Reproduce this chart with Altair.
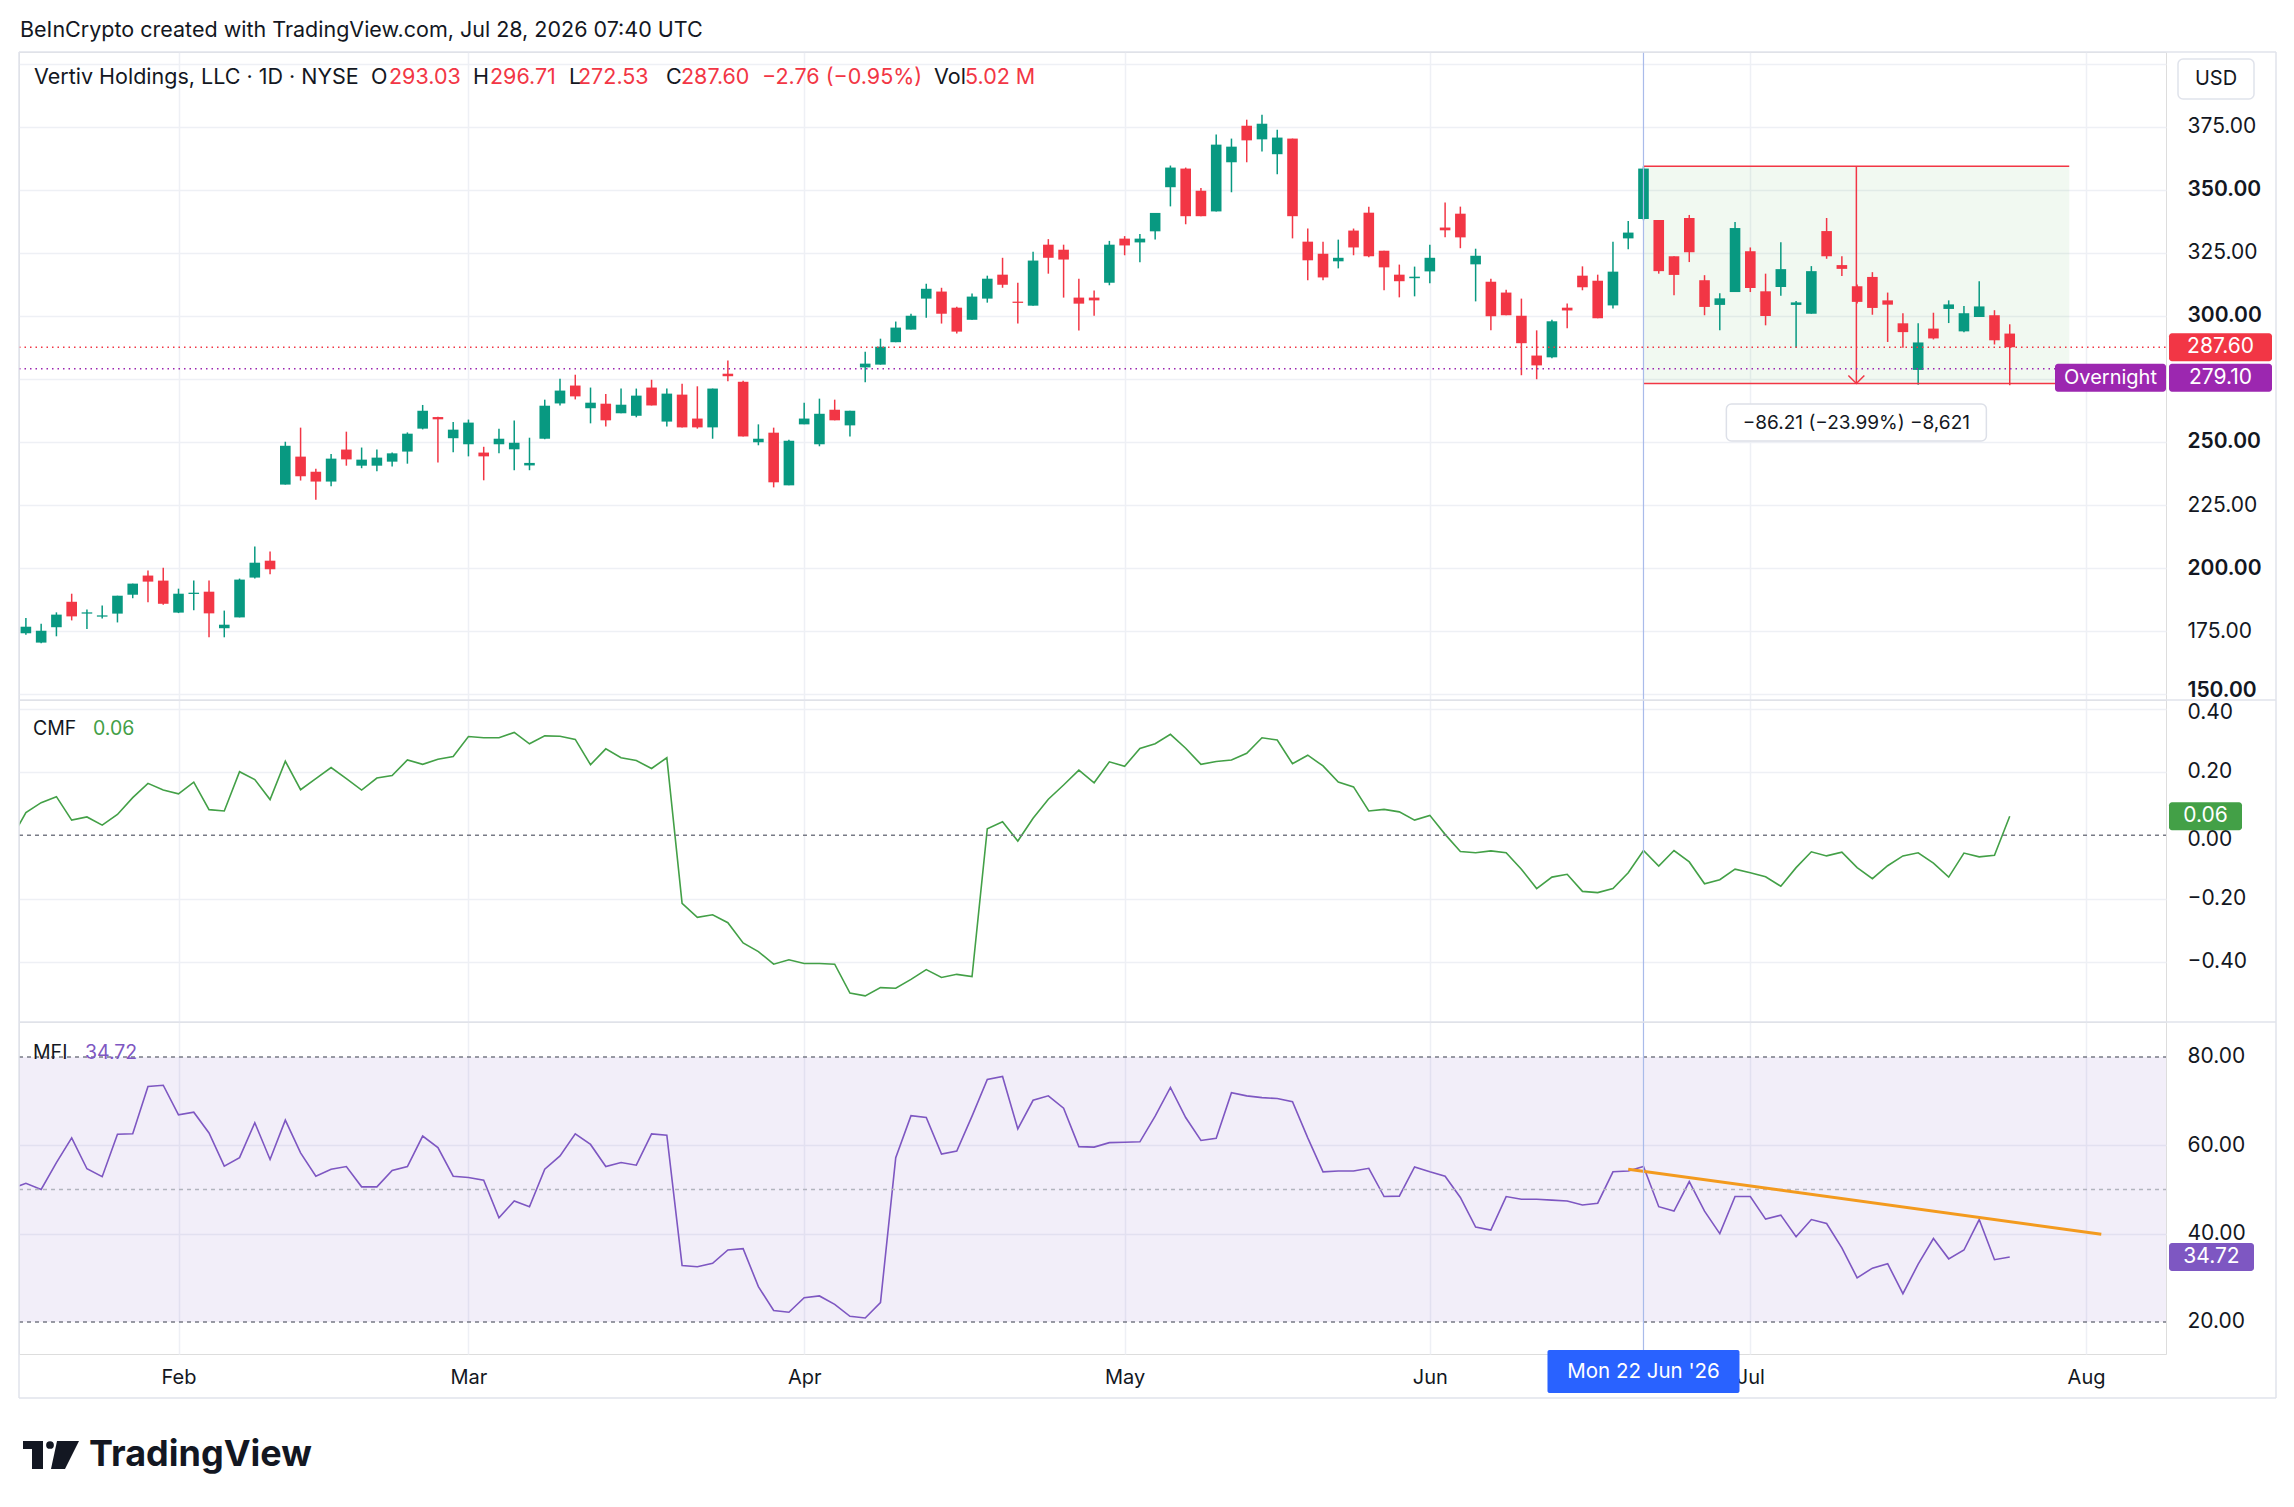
import altair as alt
import pandas as pd

# ---------------- data ----------------
opens = [174.1,170.4,176.5,186.6,182.0,180.7,181.9,189.4,197.0,195.0,182.3,190.0,190.6,176.1,180.4,196.2,202.9,233.1,244.2,238.2,
         234.3,247.0,240.6,240.6,242.2,246.2,255.3,259.9,251.5,249.1,245.8,249.1,247.1,240.7,251.3,265.3,272.4,263.4,265.2,261.4,
         260.4,271.6,258.1,268.8,259.3,255.8,277.1,273.9,249.9,253.7,232.8,257.0,249.1,262.8,256.6,279.6,280.7,289.6,294.6,306.9,
         309.7,303.3,298.5,306.9,316.4,305.7,304.1,328.3,326.3,307.3,307.3,313.2,330.7,329.2,333.6,351.1,358.5,349.7,341.5,361.0,
         375.5,370.1,364.2,370.4,329.5,324.7,321.7,333.9,341.0,325.9,316.4,315.0,317.7,335.1,340.6,320.5,313.6,309.3,300.1,284.3,
         283.6,303.3,316.0,314.0,304.2,330.8,338.5,338.1,323.7,338.9,314.2,304.4,309.5,325.7,309.8,311.5,304.4,300.9,333.7,320.2,
         311.8,315.5,306.2,297.1,278.6,295.0,302.8,293.9,299.6,300.3,293.03]
highs = [180.2,177.9,182.4,189.8,183.5,185.1,189.0,193.8,199.0,200.1,191.8,195.0,195.0,183.1,195.8,208.5,206.5,250.1,255.7,239.4,
         245.2,254.1,247.8,247.0,245.8,253.8,264.7,260.0,257.9,258.9,248.1,255.3,258.5,251.7,266.8,275.1,276.7,271.6,269.0,271.2,
         271.2,274.7,271.2,273.1,272.1,271.2,282.3,274.3,257.0,255.7,250.9,265.6,267.2,266.8,262.4,285.8,291.0,297.8,300.9,312.8,
         311.2,303.7,308.9,316.0,323.1,313.2,325.5,330.5,328.3,314.8,310.1,329.8,331.7,332.5,340.9,359.7,358.9,350.8,372.0,370.4,
         377.9,379.9,373.9,370.4,334.7,329.5,330.3,334.7,343.4,325.9,320.4,319.6,328.3,345.0,343.4,326.7,314.8,310.4,306.9,294.3,
         298.5,305.0,319.7,316.4,329.5,337.7,359.4,338.1,323.7,340.1,316.2,309.0,337.3,327.2,316.8,329.3,306.0,319.8,338.9,323.7,
         312.5,317.4,309.3,301.1,297.1,301.3,306.2,304.0,313.8,302.3,296.71]
lows = [173.5,170.1,172.9,179.2,175.8,180.0,178.4,188.0,186.4,185.4,182.1,183.2,172.5,172.5,180.4,195.8,197.5,233.1,234.7,227.1,
        232.4,240.6,239.6,238.4,240.3,241.4,255.0,241.9,245.9,244.3,234.8,245.5,238.8,238.8,251.1,264.5,266.9,257.4,256.2,261.4,
        259.8,264.5,256.2,255.8,255.3,251.3,274.1,252.2,248.7,232.0,232.8,257.0,248.3,258.6,252.2,273.7,280.7,289.6,294.6,299.3,
        297.0,293.1,298.5,305.3,311.2,297.0,304.1,316.8,307.3,294.2,300.1,312.2,324.1,321.3,330.4,343.5,336.4,339.6,341.5,349.1,
        361.0,365.3,356.2,330.8,314.2,314.2,318.9,324.1,323.3,310.2,307.4,307.8,313.0,331.2,326.9,305.8,294.3,300.3,276.5,274.9,
        283.2,295.1,310.2,299.1,303.0,326.5,338.0,316.8,308.2,321.4,300.3,294.3,309.5,309.5,296.3,308.0,287.4,300.9,322.7,315.9,
        305.0,300.5,289.7,287.4,272.7,290.7,297.2,293.6,299.6,288.7,272.53]
closes = [176.7,175.1,181.5,180.8,182.4,181.2,189.0,193.8,194.6,185.8,189.8,190.2,182.0,177.5,195.4,202.1,199.5,248.5,236.4,234.3,
          243.4,243.1,243.0,243.8,245.5,253.3,262.4,259.0,254.9,257.7,244.3,251.3,249.7,241.7,264.4,270.4,268.1,265.6,258.6,264.8,
          268.4,264.5,269.2,255.8,255.8,271.2,276.1,252.2,251.3,234.0,250.5,259.3,261.2,258.6,262.4,281.1,287.8,295.4,300.1,310.8,
          300.9,293.8,307.7,314.8,312.4,305.4,322.0,323.1,322.4,304.9,306.2,328.3,328.0,330.7,340.9,358.9,339.6,339.6,368.0,367.2,
          369.7,376.3,370.8,339.6,322.1,315.3,323.1,327.2,323.7,319.3,313.8,315.6,323.1,334.0,331.2,323.9,299.9,300.3,289.2,280.4,
          297.9,302.2,311.4,299.1,317.6,333.1,358.5,317.8,316.3,325.3,303.6,307.0,334.9,311.1,300.0,318.6,305.4,317.8,323.7,318.7,
          305.6,303.2,304.5,293.6,289.5,291.1,304.6,301.1,303.8,290.36,287.60]
# indicator series start one session before the first visible candle (index -1)
cmf = [-0.015,
       0.072,0.103,0.122,0.048,0.058,0.032,0.066,0.119,0.164,0.143,0.131,0.168,0.081,0.077,0.201,0.176,0.113,0.234,0.144,0.179,
       0.214,0.179,0.143,0.181,0.189,0.238,0.224,0.240,0.249,0.312,0.308,0.308,0.325,0.289,0.314,0.313,0.303,0.223,0.273,0.245,
       0.236,0.211,0.245,-0.215,-0.259,-0.251,-0.276,-0.340,-0.367,-0.407,-0.393,-0.405,-0.405,-0.407,-0.498,-0.507,-0.481,-0.483,-0.455,-0.424,
       -0.449,-0.439,-0.446,0.021,0.043,-0.018,0.054,0.114,0.159,0.206,0.166,0.232,0.218,0.274,0.289,0.319,0.275,0.224,0.233,0.238,
       0.259,0.308,0.301,0.226,0.253,0.219,0.168,0.153,0.077,0.082,0.074,0.048,0.063,0.003,-0.051,-0.055,-0.049,-0.055,-0.107,-0.168,
       -0.132,-0.123,-0.177,-0.181,-0.168,-0.118,-0.048,-0.097,-0.048,-0.084,-0.153,-0.140,-0.107,-0.118,-0.131,-0.161,-0.102,-0.052,-0.065,-0.053,
       -0.102,-0.137,-0.096,-0.065,-0.055,-0.088,-0.132,-0.056,-0.068,-0.063,0.06]
mfi = [50.1,
       51.4,50.0,56.1,61.7,54.7,52.9,62.5,62.6,73.3,73.6,66.9,67.5,62.8,55.3,57.2,65.1,56.8,65.7,58.3,53.0,
       54.6,55.2,50.6,50.6,54.3,55.2,62.1,59.5,53.0,52.7,52.1,43.6,47.4,46.1,54.6,57.6,62.6,60.2,55.2,56.1,
       55.5,62.6,62.3,32.8,32.5,33.3,36.3,36.6,28.0,22.6,22.2,25.5,25.9,24.0,21.3,20.9,24.4,57.2,66.7,66.3,
       58.0,58.7,66.6,74.9,75.6,63.7,70.2,71.2,68.4,59.7,59.6,60.6,60.7,60.8,66.6,73.1,66.3,61.1,61.6,71.9,
       71.2,70.8,70.6,69.9,61.7,54.0,54.2,54.2,54.8,48.4,48.5,55.1,54.0,53.0,48.2,41.5,40.8,48.4,47.8,47.8,
       47.6,47.4,46.5,46.9,54.0,54.2,55.2,46.1,45.1,51.8,45.1,40.0,48.4,48.4,43.3,44.2,39.3,43.2,42.3,36.8,
       30.0,32.2,33.2,26.4,33.1,38.9,34.3,36.3,43.2,34.1,34.72]
volume_last = "5.02 M"
overnight_price = 279.10
month_idx = [10, 29, 51, 72, 92, 113, 135]
month_names = ["Feb", "Mar", "Apr", "May", "Jun", "Jul", "Aug"]
price_ticks = [150, 175, 200, 225, 250, 275, 300, 325, 350, 375, 400]
cmf_ticks = [-0.4, -0.2, 0.0, 0.2, 0.4]
mfi_ticks = [20, 40, 60, 80]
mfi_bands = [20, 50, 80]
cross_idx = 106
measure_x = [106, 133.9]
measure_y = [359.4, 273.2]
measure_text = "\u221286.21 (\u221223.99%) \u22128,621"
trend_x = [105, 136]
trend_y = [54.6, 39.85]
date_label = "Mon 22 Jun '26"

# ---------------- style ----------------
FONT = "Inter"
TXT = "#131722"
GRID = "#EEF0F5"
FRAME = "#E0E3EB"
UP = "#089981"
DOWN = "#F23645"
CMFC = "#43A047"
MFIC = "#7E57C2"
PURP = "#9C27B0"
W = 2147
H1, H2, H3 = 648, 322, 332
FW = 2257
XDOM = [-0.452, 140.24]
HS = 21.5  # header font size

n = len(closes)
df = pd.DataFrame({"i": list(range(n)), "o": opens, "h": highs, "l": lows, "c": closes})
df["dir"] = ["up" if c >= o else "down" for o, c in zip(opens, closes)]
df["top"] = df[["o", "c"]].max(axis=1)
df["bot"] = df[["o", "c"]].min(axis=1)
small = (df["top"] - df["bot"]) < 0.5
df.loc[small, "bot"] = df.loc[small, "top"] - 0.5

xs = alt.Scale(domain=XDOM, nice=False, zero=False)
yP = alt.Scale(domain=[147.62, 404.76], nice=False, zero=False)
yC = alt.Scale(domain=[-0.5895, 0.4273], nice=False, zero=False)
yM = alt.Scale(domain=[12.755, 87.92], nice=False, zero=False)
col = alt.Color("dir:N", scale=alt.Scale(domain=["up", "down"], range=[UP, DOWN]), legend=None)

month_expr = " : ".join(f"datum.value == {i} ? '{m}'" for i, m in zip(month_idx, month_names)) + " : ''"


def xaxis(labels=False):
    return alt.Axis(values=month_idx, labels=labels, labelExpr=month_expr, ticks=False, domain=False,
                    grid=True, gridColor=GRID, gridWidth=1.5, title=None, labelFontSize=20, labelFont=FONT,
                    labelColor=TXT, labelPadding=13, labelFlush=False, labelOverlap=False)


def yaxis(values, expr, gridcolor, weight=None, offset=None):
    kw = dict(orient="right", values=values, labelExpr=expr, grid=True, gridColor=gridcolor, gridWidth=1.5,
              ticks=False, domain=False, labelFontSize=21, labelFont=FONT, labelColor=TXT, labelPadding=21,
              title=None, labelOverlap=False, labelBound=False, labelFlush=False)
    if weight is not None:
        kw["labelFontWeight"] = weight
    if offset is not None:
        kw["labelOffset"] = offset
    return alt.Axis(**kw)


price_expr = "(datum.value == 275 || datum.value == 400) ? '' : format(datum.value, '.2f')"
pw = {"condition": {"test": "datum.value % 50 === 0", "value": 600}, "value": 400}
poff = {"condition": {"test": "datum.value === 150", "value": -4}, "value": 0}
cmf_expr = "replace(format(datum.value, '.2f'), '-', '\u2212')"
cgrid = {"condition": {"test": "datum.value === 0", "value": "transparent"}, "value": GRID}
coff = {"condition": {"test": "datum.value > 0.39 || datum.value === 0", "value": 4}, "value": 0}
mfi_expr = "format(datum.value, '.2f')"
mgrid = {"condition": {"test": "datum.value === 20 || datum.value === 80", "value": "transparent"}, "value": GRID}

PXA = xaxis()
PYA = yaxis(price_ticks, price_expr, GRID, pw, poff)
CXA = xaxis()
CYA = yaxis(cmf_ticks, cmf_expr, cgrid, None, coff)
MXA = xaxis(True)
MYA = yaxis(mfi_ticks, mfi_expr, mgrid)


def X(field, ax):
    return alt.X(f"{field}:Q", scale=xs, axis=ax, title=None)


def Y(field, sc, ax):
    return alt.Y(f"{field}:Q", scale=sc, axis=ax, title=None)


def txt(text, x, y, color=TXT, size=20, weight="normal", align="left"):
    return alt.Chart(pd.DataFrame({"t": [text]})).mark_text(
        align=align, baseline="middle", color=color, fontSize=size, font=FONT, fontWeight=weight
    ).encode(x=alt.value(x), y=alt.value(y), text="t:N")


def prule(x1, x2, y1, y2, color=FRAME, width=1.5):
    return alt.Chart(pd.DataFrame({"a": [0]})).mark_rule(color=color, strokeWidth=width).encode(
        x=alt.value(x1), x2=alt.value(x2), y=alt.value(y1), y2=alt.value(y2))


def prect(x1, x2, y1, y2, fill, stroke=None, radius=0):
    kw = dict(fill=fill, cornerRadius=radius)
    if stroke:
        kw.update(stroke=stroke, strokeWidth=1.5)
    return alt.Chart(pd.DataFrame({"a": [0]})).mark_rect(**kw).encode(
        x=alt.value(x1), x2=alt.value(x2), y=alt.value(y1), y2=alt.value(y2))


def crossline(xa, h):
    return alt.Chart(pd.DataFrame({"i": [cross_idx]})).mark_rule(color="#A9BBEA", strokeWidth=1.2).encode(
        x=X("i", xa), y=alt.value(0), y2=alt.value(h))


def hline(v, sc, ya, color, dash, width=1.5):
    return alt.Chart(pd.DataFrame({"v": [v]})).mark_rule(color=color, strokeDash=dash, strokeWidth=width).encode(
        x=alt.value(0), x2=alt.value(W), y=Y("v", sc, ya))


def valbox(v, label, sc, ya, x1, x2, fill, off=0, size=21):
    d = pd.DataFrame({"v": [v], "t": [label]})
    box = alt.Chart(d).mark_rect(fill=fill, cornerRadius=3, yOffset=-14 + off, y2Offset=14 + off).encode(
        x=alt.value(x1), x2=alt.value(x2), y=Y("v", sc, ya), y2="v:Q")
    t = alt.Chart(d).mark_text(color="white", fontSize=size, font=FONT, align="center", baseline="middle",
                               dy=off).encode(
        x=alt.value((x1 + x2) / 2), y=Y("v", sc, ya), text="t:N")
    return box + t


# ---------------- price panel ----------------
meas = pd.DataFrame({"x1": [measure_x[0]], "x2": [measure_x[1]], "top": [measure_y[0]], "bot": [measure_y[1]],
                     "xm": [(measure_x[0] + measure_x[1]) / 2], "t": [measure_text]})
meas_fill = alt.Chart(meas).mark_rect(fill="#4CAF50", opacity=0.08).encode(
    x=X("x1", PXA), x2="x2:Q", y=Y("top", yP, PYA), y2="bot:Q")
meas_top = alt.Chart(meas).mark_rule(color=DOWN, strokeWidth=1.5).encode(
    x=X("x1", PXA), x2="x2:Q", y=Y("top", yP, PYA))
meas_bot = alt.Chart(meas).mark_rule(color=DOWN, strokeWidth=1.5).encode(
    x=X("x1", PXA), x2="x2:Q", y=Y("bot", yP, PYA))
meas_v = alt.Chart(meas).mark_rule(color=DOWN, strokeWidth=1.5).encode(
    x=X("xm", PXA), y=Y("top", yP, PYA), y2="bot:Q")
meas_arrow = alt.Chart(meas).mark_point(shape="M-1,-1L0,0L1,-1", size=256, filled=False, color=DOWN,
                                        strokeWidth=1.5, opacity=1).encode(
    x=X("xm", PXA), y=Y("bot", yP, PYA))
meas_box = alt.Chart(meas).mark_rect(fill="white", stroke="#DDE0E8", strokeWidth=1.5, cornerRadius=5,
                                     xOffset=-130, x2Offset=130).encode(
    x=X("xm", PXA), x2="xm:Q", y=alt.value(352), y2=alt.value(389))
meas_txt = alt.Chart(meas).mark_text(fontSize=19, font=FONT, color=TXT, align="center", baseline="middle").encode(
    x=X("xm", PXA), y=alt.value(371), text="t:N")

wicks = alt.Chart(df).mark_rule(strokeWidth=1.5).encode(
    x=X("i", PXA), y=Y("l", yP, PYA), y2="h:Q", color=col)
bodies = alt.Chart(df).mark_rect(xOffset=-5.3, x2Offset=5.3).encode(
    x=X("i", PXA), x2="i:Q", y=Y("bot", yP, PYA), y2="top:Q", color=col)

chg = closes[-1] - closes[-2]
pct = chg / closes[-2] * 100
minus = "\u2212"
chg_txt = f"{minus if chg < 0 else '+'}{abs(chg):.2f} ({minus if pct < 0 else '+'}{abs(pct):.2f}%)"

header = [
    txt("Vertiv Holdings, LLC \u00b7 1D \u00b7 NYSE", 15, 26, size=HS),
    txt("O", 352, 26, size=HS), txt(f"{opens[-1]:.2f}", 370, 26, DOWN, HS),
    txt("H", 454, 26, size=HS), txt(f"{highs[-1]:.2f}", 471, 26, DOWN, HS),
    txt("L", 550, 26, size=HS), txt(f"{lows[-1]:.2f}", 559, 26, DOWN, HS),
    txt("C", 647, 26, size=HS), txt(f"{closes[-1]:.2f}", 662, 26, DOWN, HS),
    txt(chg_txt, 743, 26, DOWN, HS),
    txt("Vol", 915, 26, size=HS), txt(volume_last, 946, 26, DOWN, HS),
]
title = txt("BeInCrypto created with TradingView.com, Jul 28, 2026 07:40 UTC", 1, -21, size=21.5)
anchor = prule(-10, -10, -43, -42, color="white", width=1)
usd = prect(2159, 2235, 7, 47, "white", FRAME, 5) + txt("USD", 2197, 27, size=20, align="center")

price = alt.layer(
    meas_fill, wicks, bodies, meas_top, meas_bot, meas_v, meas_arrow,
    hline(closes[-1], yP, PYA, DOWN, [1.5, 4]), hline(overnight_price, yP, PYA, PURP, [1.5, 4]),
    crossline(PXA, H1), meas_box, meas_txt,
    valbox(closes[-1], f"{closes[-1]:.2f}", yP, PYA, 2150, 2253, DOWN),
    valbox(overnight_price, f"{overnight_price:.2f}", yP, PYA, 2150, 2253, PURP, off=9),
    valbox(overnight_price, "Overnight", yP, PYA, 2036, 2147, PURP, off=9, size=20),
    *header, title, anchor, usd,
    prule(0, FW, 0, 0), prule(0, 0, 0, H1), prule(FW, FW, 0, H1),
).properties(width=W, height=H1)

# ---------------- CMF panel ----------------
cdf = pd.DataFrame({"i": list(range(-1, len(cmf) - 1)), "v": cmf})
cmf_line = alt.Chart(cdf).mark_line(color=CMFC, strokeWidth=1.6, clip=True).encode(x=X("i", CXA), y=Y("v", yC, CYA))
cmf_panel = alt.layer(
    cmf_line, hline(0.0, yC, CYA, "#787B86", [4, 4]), crossline(CXA, H2),
    valbox(cmf[-1], f"{cmf[-1]:.2f}", yC, CYA, 2150, 2223, CMFC),
    txt("CMF", 14, 29, size=19.5), txt(f"{cmf[-1]:.2f}", 74, 29, CMFC, 19.5),
    prule(0, FW, 0, 0), prule(0, 0, 0, H2), prule(FW, FW, 0, H2),
).properties(width=W, height=H2)

# ---------------- MFI panel ----------------
mdf = pd.DataFrame({"i": list(range(-1, len(mfi) - 1)), "v": mfi})
band = alt.Chart(pd.DataFrame({"lo": [mfi_bands[0]], "hi": [mfi_bands[2]]})).mark_rect(fill=MFIC, opacity=0.1).encode(
    x=alt.value(0), x2=alt.value(W), y=Y("lo", yM, MYA), y2="hi:Q")
mfi_line = alt.Chart(mdf).mark_line(color=MFIC, strokeWidth=1.6, clip=True).encode(x=X("i", MXA), y=Y("v", yM, MYA))
trend = alt.Chart(pd.DataFrame({"i": trend_x, "v": trend_y})).mark_line(color="#F39A1E", strokeWidth=3).encode(
    x=X("i", MXA), y=Y("v", yM, MYA))
ddf = pd.DataFrame({"i": [cross_idx], "t": [date_label]})
date_box = alt.Chart(ddf).mark_rect(fill="#2962FF", cornerRadius=2, xOffset=-96, x2Offset=96).encode(
    x=X("i", MXA), x2="i:Q", y=alt.value(328), y2=alt.value(371))
date_txt = alt.Chart(ddf).mark_text(color="white", fontSize=20.5, font=FONT, align="center", baseline="middle").encode(
    x=X("i", MXA), y=alt.value(350), text="t:N")

logo_t1 = prect(4, 24, 419, 427, TXT)
logo_t2 = prect(13, 24, 419, 447, TXT)
logo_dot = alt.Chart(pd.DataFrame({"a": [0]})).mark_point(shape="circle", size=60, filled=True, color=TXT, opacity=1).encode(
    x=alt.value(31), y=alt.value(423))
logo_v = alt.Chart(pd.DataFrame({"a": [0]})).mark_point(shape="M-0.57,-1L1,-1L0,1L-1,1Z", size=784, filled=True,
                                                         color=TXT, opacity=1).encode(x=alt.value(46), y=alt.value(433))
logo_txt = txt("TradingView", 70, 433, size=36, weight="bold")

mfi_panel = alt.layer(
    mfi_line, band,
    hline(mfi_bands[2], yM, MYA, "#787B86", [4, 4]), hline(mfi_bands[1], yM, MYA, "#B2B5BE", [4, 4]),
    hline(mfi_bands[0], yM, MYA, "#787B86", [4, 4]),
    trend, crossline(MXA, H3),
    valbox(mfi[-1], f"{mfi[-1]:.2f}", yM, MYA, 2150, 2235, MFIC),
    txt("MFI", 14, 31, size=19.5), txt(f"{mfi[-1]:.2f}", 66, 31, MFIC, 19.5),
    date_box, date_txt,
    prule(0, FW, 0, 0), prule(0, 0, 0, 376), prule(FW, FW, 0, 376), prule(0, FW, 376, 376),
    logo_t1, logo_t2, logo_dot, logo_v, logo_txt,
).properties(width=W, height=H3)

chart = alt.vconcat(price, cmf_panel, mfi_panel, spacing=0, bounds="flush").properties(
    padding={"left": 0, "top": 0, "right": 0, "bottom": 0}
).configure_view(stroke=None).configure(background="white")

chart.save("out.html", embed_options={"renderer": "svg", "actions": False})
